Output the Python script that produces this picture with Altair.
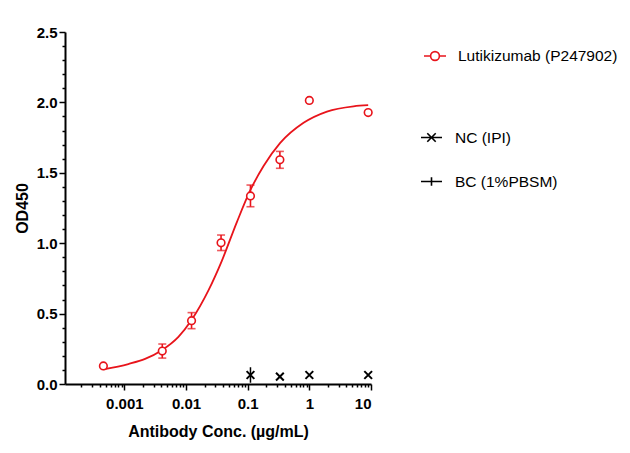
import altair as alt
import pandas as pd

RED = "#e8141b"
FONT = "Liberation Sans"
LUT = "Lutikizumab (P247902)"
NC = "NC (IPI)"
BC = "BC (1%PBSM)"

# Lutikizumab measured points (mean, SD)
conc = [0.000457, 0.00412, 0.0123, 0.037, 0.111, 0.333, 1.0, 9.0]
lut_mean = [0.128, 0.234, 0.450, 1.003, 1.336, 1.592, 2.014, 1.928]
lut_sd = [0.0, 0.050, 0.057, 0.055, 0.077, 0.060, 0.0, 0.0]

# fitted curve
curve_conc = [0.000457, 0.00116, 0.00217, 0.00405, 0.00753, 0.0123, 0.0231, 0.0381,
              0.0668, 0.110, 0.181, 0.337, 0.806, 1.93, 5.22, 9.0]
curve_od = [0.104, 0.142, 0.178, 0.240, 0.335, 0.455, 0.665, 0.875,
            1.150, 1.375, 1.548, 1.712, 1.855, 1.935, 1.972, 1.980]

# negative control
nc_conc = [0.111, 0.333, 1.0, 9.0]
nc_mean = [0.064, 0.052, 0.064, 0.064]
nc_sd = [0.055, 0.0, 0.0, 0.0]

# legend series for the controls
ctrl_series = [NC, BC]

# axis ticks
x_major = [0.001, 0.01, 0.1, 1, 10]
x_decades = [0.0001, 0.001, 0.01, 0.1, 1]
x_min, x_max = 0.000109, 10
y_ticks = [round(i * 0.1, 1) for i in range(26)]

x_ticks = sorted({round(k * d, 6) for d in x_decades for k in range(1, 10)
                  if x_min <= k * d <= x_max} | set(x_major))

lut_df = pd.DataFrame({"conc": conc, "od": lut_mean, "sd": lut_sd})
curve_df = pd.DataFrame({"conc": curve_conc, "od": curve_od, "series": LUT})
nc_df = pd.DataFrame({"conc": nc_conc, "od": nc_mean, "sd": nc_sd, "series": NC})

MAJX = "abs(log(datum.value)/LN10 - round(log(datum.value)/LN10)) < 0.000001"
MAJY = "abs(datum.value*2 - round(datum.value*2)) < 0.000001"

x_axis = alt.Axis(
    values=x_ticks, title="Antibody Conc. (µg/mL)",
    labelExpr=f"({MAJX}) ? format(datum.value, '~g') : ''",
    tickSize={"condition": {"test": MAJX, "value": 6}, "value": 3},
    labelOverlap=False, grid=False, domainColor="black", domainWidth=2,
    tickColor="black", tickWidth=1.5, labelFont=FONT, labelFontSize=15,
    labelFontWeight="bold", labelColor="black", labelPadding=6,
    titleFont=FONT, titleFontSize=16, titleFontWeight="bold", titleColor="black",
    titlePadding=12,
)
y_axis = alt.Axis(
    values=y_ticks, title="OD450",
    labelExpr=f"({MAJY}) ? format(datum.value, '.1f') : ''",
    tickSize={"condition": {"test": MAJY, "value": 6}, "value": 3},
    labelOverlap=False, grid=False, domainColor="black", domainWidth=2,
    tickColor="black", tickWidth=1.5, labelFont=FONT, labelFontSize=15,
    labelFontWeight="bold", labelColor="black", labelPadding=2,
    titleFont=FONT, titleFontSize=16, titleFontWeight="bold", titleColor="black",
    titlePadding=6,
)
x_scale = alt.Scale(type="log", domain=[x_min, x_max], nice=False)
y_scale = alt.Scale(domain=[0, 2.5], nice=False, zero=False)

X = alt.X("conc:Q", scale=x_scale, axis=x_axis)
Y = alt.Y("od:Q", scale=y_scale, axis=y_axis)
Ylo = alt.Y("lo:Q", scale=y_scale, axis=y_axis)
Yhi = alt.Y("hi:Q", scale=y_scale, axis=y_axis)

LUT_PATH = ("M-1,0L-0.4,0M0.4,0L1,0M-0.4,0A0.4,0.4,0,1,1,0.4,0"
            "A0.4,0.4,0,1,1,-0.4,0")
X_PATH = "M-1,-1L1,1M-1,1L1,-1"
NC_LEG = "M-1,0L1,0M-0.4,-0.4L0.4,0.4M-0.4,0.4L0.4,-0.4"
BC_LEG = "M-1,0L1,0M0,-0.4L0,0.4"

curve = alt.Chart(curve_df).mark_line(interpolate="monotone", strokeWidth=1.8).encode(
    x=X, y=Y,
    color=alt.Color("series:N", scale=alt.Scale(domain=[LUT], range=[RED]),
                    legend=alt.Legend(
                        orient="none", legendX=358, legendY=12, title=None,
                        symbolType=LUT_PATH, symbolSize=484, symbolStrokeWidth=1.6,
                        symbolStrokeColor=RED, symbolFillColor="white",
                        labelOffset=11, labelFont=FONT, labelFontSize=15.5,
                        labelLimit=300, labelColor="black", padding=0)),
)

err_base = alt.Chart(lut_df).transform_filter("datum.sd > 0").transform_calculate(
    lo="datum.od - datum.sd", hi="datum.od + datum.sd")
err_rule = err_base.mark_rule(color=RED, strokeWidth=1.6).encode(x=X, y=Ylo, y2="hi:Q")
err_top = err_base.mark_tick(color=RED, orient="horizontal", size=8, thickness=1.6).encode(x=X, y=Yhi)
err_bot = err_base.mark_tick(color=RED, orient="horizontal", size=8, thickness=1.6).encode(x=X, y=Ylo)

points = alt.Chart(lut_df).mark_point(
    shape="circle", filled=True, fill="white", stroke=RED, strokeWidth=1.6,
    size=58, opacity=1, fillOpacity=1).encode(x=X, y=Y)

nc_err = alt.Chart(nc_df).transform_filter("datum.sd > 0").transform_calculate(
    lo="datum.od - datum.sd", hi="datum.od + datum.sd"
).mark_rule(color="black", strokeWidth=1.5).encode(x=X, y=Ylo, y2="hi:Q")

nc_points = alt.Chart(nc_df).mark_point(
    shape=X_PATH, filled=False, color="black", strokeWidth=2, size=60, opacity=1
).encode(x=X, y=Y)

# legend carrier for the control series (marks themselves invisible)
ctrl_legend = alt.Chart(nc_df).mark_point(
    filled=False, color="black", strokeWidth=1.5, opacity=0).encode(
    x=X, y=Y,
    shape=alt.Shape("series:N", scale=alt.Scale(domain=ctrl_series, range=[NC_LEG, BC_LEG]),
                    legend=alt.Legend(
                        orient="none", legendX=355, legendY=94, title=None,
                        symbolSize=441, symbolStrokeWidth=1.6, symbolStrokeColor="black",
                        symbolFillColor="transparent", symbolOpacity=1,
                        rowPadding=24, labelOffset=12, labelLimit=300,
                        labelFont=FONT, labelFontSize=15.5, labelColor="black", padding=0)),
)

chart = alt.layer(curve, err_rule, err_top, err_bot, points, nc_err, nc_points,
                  ctrl_legend).properties(
    width=306, height=352,
    padding={"left": 57, "top": 24, "right": 251, "bottom": 61},
    autosize=alt.AutoSizeParams(type="none"),
    background="white",
).configure_view(stroke=None)

chart.save("out.html", embed_options={"renderer": "svg", "actions": False})
